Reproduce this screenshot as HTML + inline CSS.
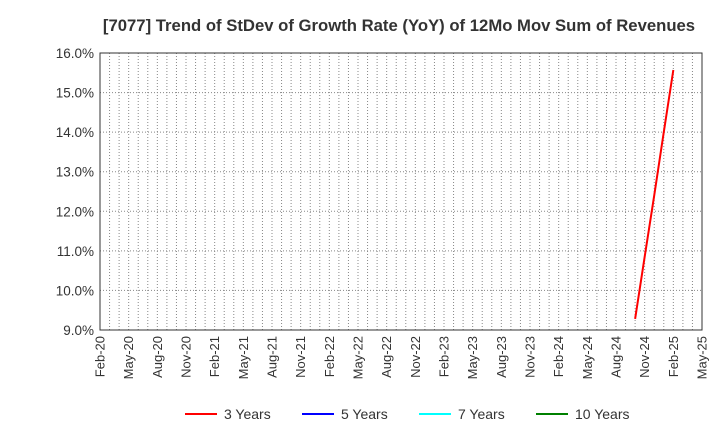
<!DOCTYPE html>
<html><head><meta charset="utf-8"><style>
body{margin:0;background:#fff;font-family:"Liberation Sans",sans-serif}
svg text{font-family:"Liberation Sans",sans-serif}
</style></head><body>
<svg width="720" height="440" id="c"></svg>
<script>
const tickLabels=["Feb-20","May-20","Aug-20","Nov-20","Feb-21","May-21","Aug-21","Nov-21","Feb-22","May-22","Aug-22","Nov-22","Feb-23","May-23","Aug-23","Nov-23","Feb-24","May-24","Aug-24","Nov-24","Feb-25","May-25"];
const yTicks=[9,10,11,12,13,14,15,16];
const months3=[56,57,58,59,60];
const values3=[9.28,10.85,12.4,14.0,15.57];
const legendNames=["3 Years","5 Years","7 Years","10 Years"];
const legendColors=["#ff0000","#0000ff","#00ffff","#008000"];
const svg=document.getElementById('c');const NS="http://www.w3.org/2000/svg";
const L=100,R=702,T=53,B=330;
const x=m=>L+(R-L)*m/63, y=v=>B-(B-T)*(v-9)/7;
function el(t,a,txt){const e=document.createElementNS(NS,t);for(const k in a)e.setAttribute(k,a[k]);if(txt!=null)e.textContent=txt;svg.appendChild(e);return e;}
const title=el('text',{x:399,y:31,'text-anchor':'middle','font-size':16.7,'font-weight':'bold',fill:'#333'},"[7077]  Trend of StDev of Growth Rate (YoY) of 12Mo Mov Sum of Revenues");

for(let m=1;m<63;m++){const g=el('line',{x1:x(m),x2:x(m),y1:T,y2:B,stroke:'#888','stroke-dasharray':'1,2','stroke-width':1});
}
yTicks.forEach(v=>{if(v>9&&v<16){const g=el('line',{x1:L,x2:R,y1:y(v),y2:y(v),stroke:'#888','stroke-dasharray':'1,2'});
}
const t=el('text',{x:L-6,y:y(v)+5,'text-anchor':'end','font-size':13.5,fill:'#333'},v.toFixed(1)+"%");
});
const fr=el('rect',{x:L,y:T,width:R-L,height:B-T,fill:'none',stroke:'#333'});

tickLabels.forEach((s,i)=>{const xx=x(i*3);const t=el('text',{transform:`translate(${xx+4.5},${B+6}) rotate(-90)`,'text-anchor':'end','font-size':13,fill:'#333'},s);
});
const p=el('polyline',{points:months3.map((m,i)=>x(m)+','+y(values3[i])).join(' '),fill:'none',stroke:'#ff0000','stroke-width':2});

const lx=[185,302,419,536];
legendNames.forEach((n,i)=>{const l=el('line',{x1:lx[i],x2:lx[i]+32,y1:414,y2:414,stroke:legendColors[i],'stroke-width':2});

const t=el('text',{x:lx[i]+39,y:419,'font-size':14,fill:'#333'},n);
});
</script></body></html>
